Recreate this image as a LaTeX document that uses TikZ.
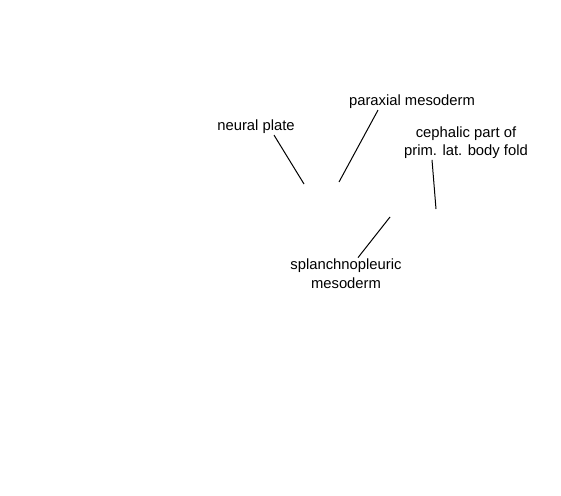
\documentclass[tikz,border=0pt]{standalone}
\usepackage{fontspec}
\setmainfont{Liberation Sans}
\usetikzlibrary{positioning}
\begin{document}
\begin{tikzpicture}[x=1pt, y=-1pt,
		lbl/.style={inner sep=1pt, align=center, font=\fontsize{14.8}{18.5}\selectfont},
		lead/.style={line width=1pt, black}]
		\useasboundingbox (0,0) rectangle (561,495);
		\node[lbl] (np) at (256,127) {neural plate};
		\node[lbl] (pm) at (412,102) {paraxial mesoderm};
		\node[lbl] (cp) at (466,142.5) {cephalic part of\\prim. lat. body fold};
		\node[lbl] (sm) at (346,273.5) {splanchnopleuric\\mesoderm};
		\coordinate (npTip) at (304,184);
		\coordinate (pmTip) at (339,182);
		\coordinate (cpTip) at (436,209);
		\coordinate (smTip) at (390,217);
		\draw[lead] ([xshift=18pt]np.south) -- (npTip);
		\draw[lead] ([xshift=-34pt]pm.south) -- (pmTip);
		\draw[lead] ([xshift=-34pt]cp.south) -- (cpTip);
		\draw[lead] ([xshift=12pt]sm.north) -- (smTip);
	\end{tikzpicture}
\end{document}
